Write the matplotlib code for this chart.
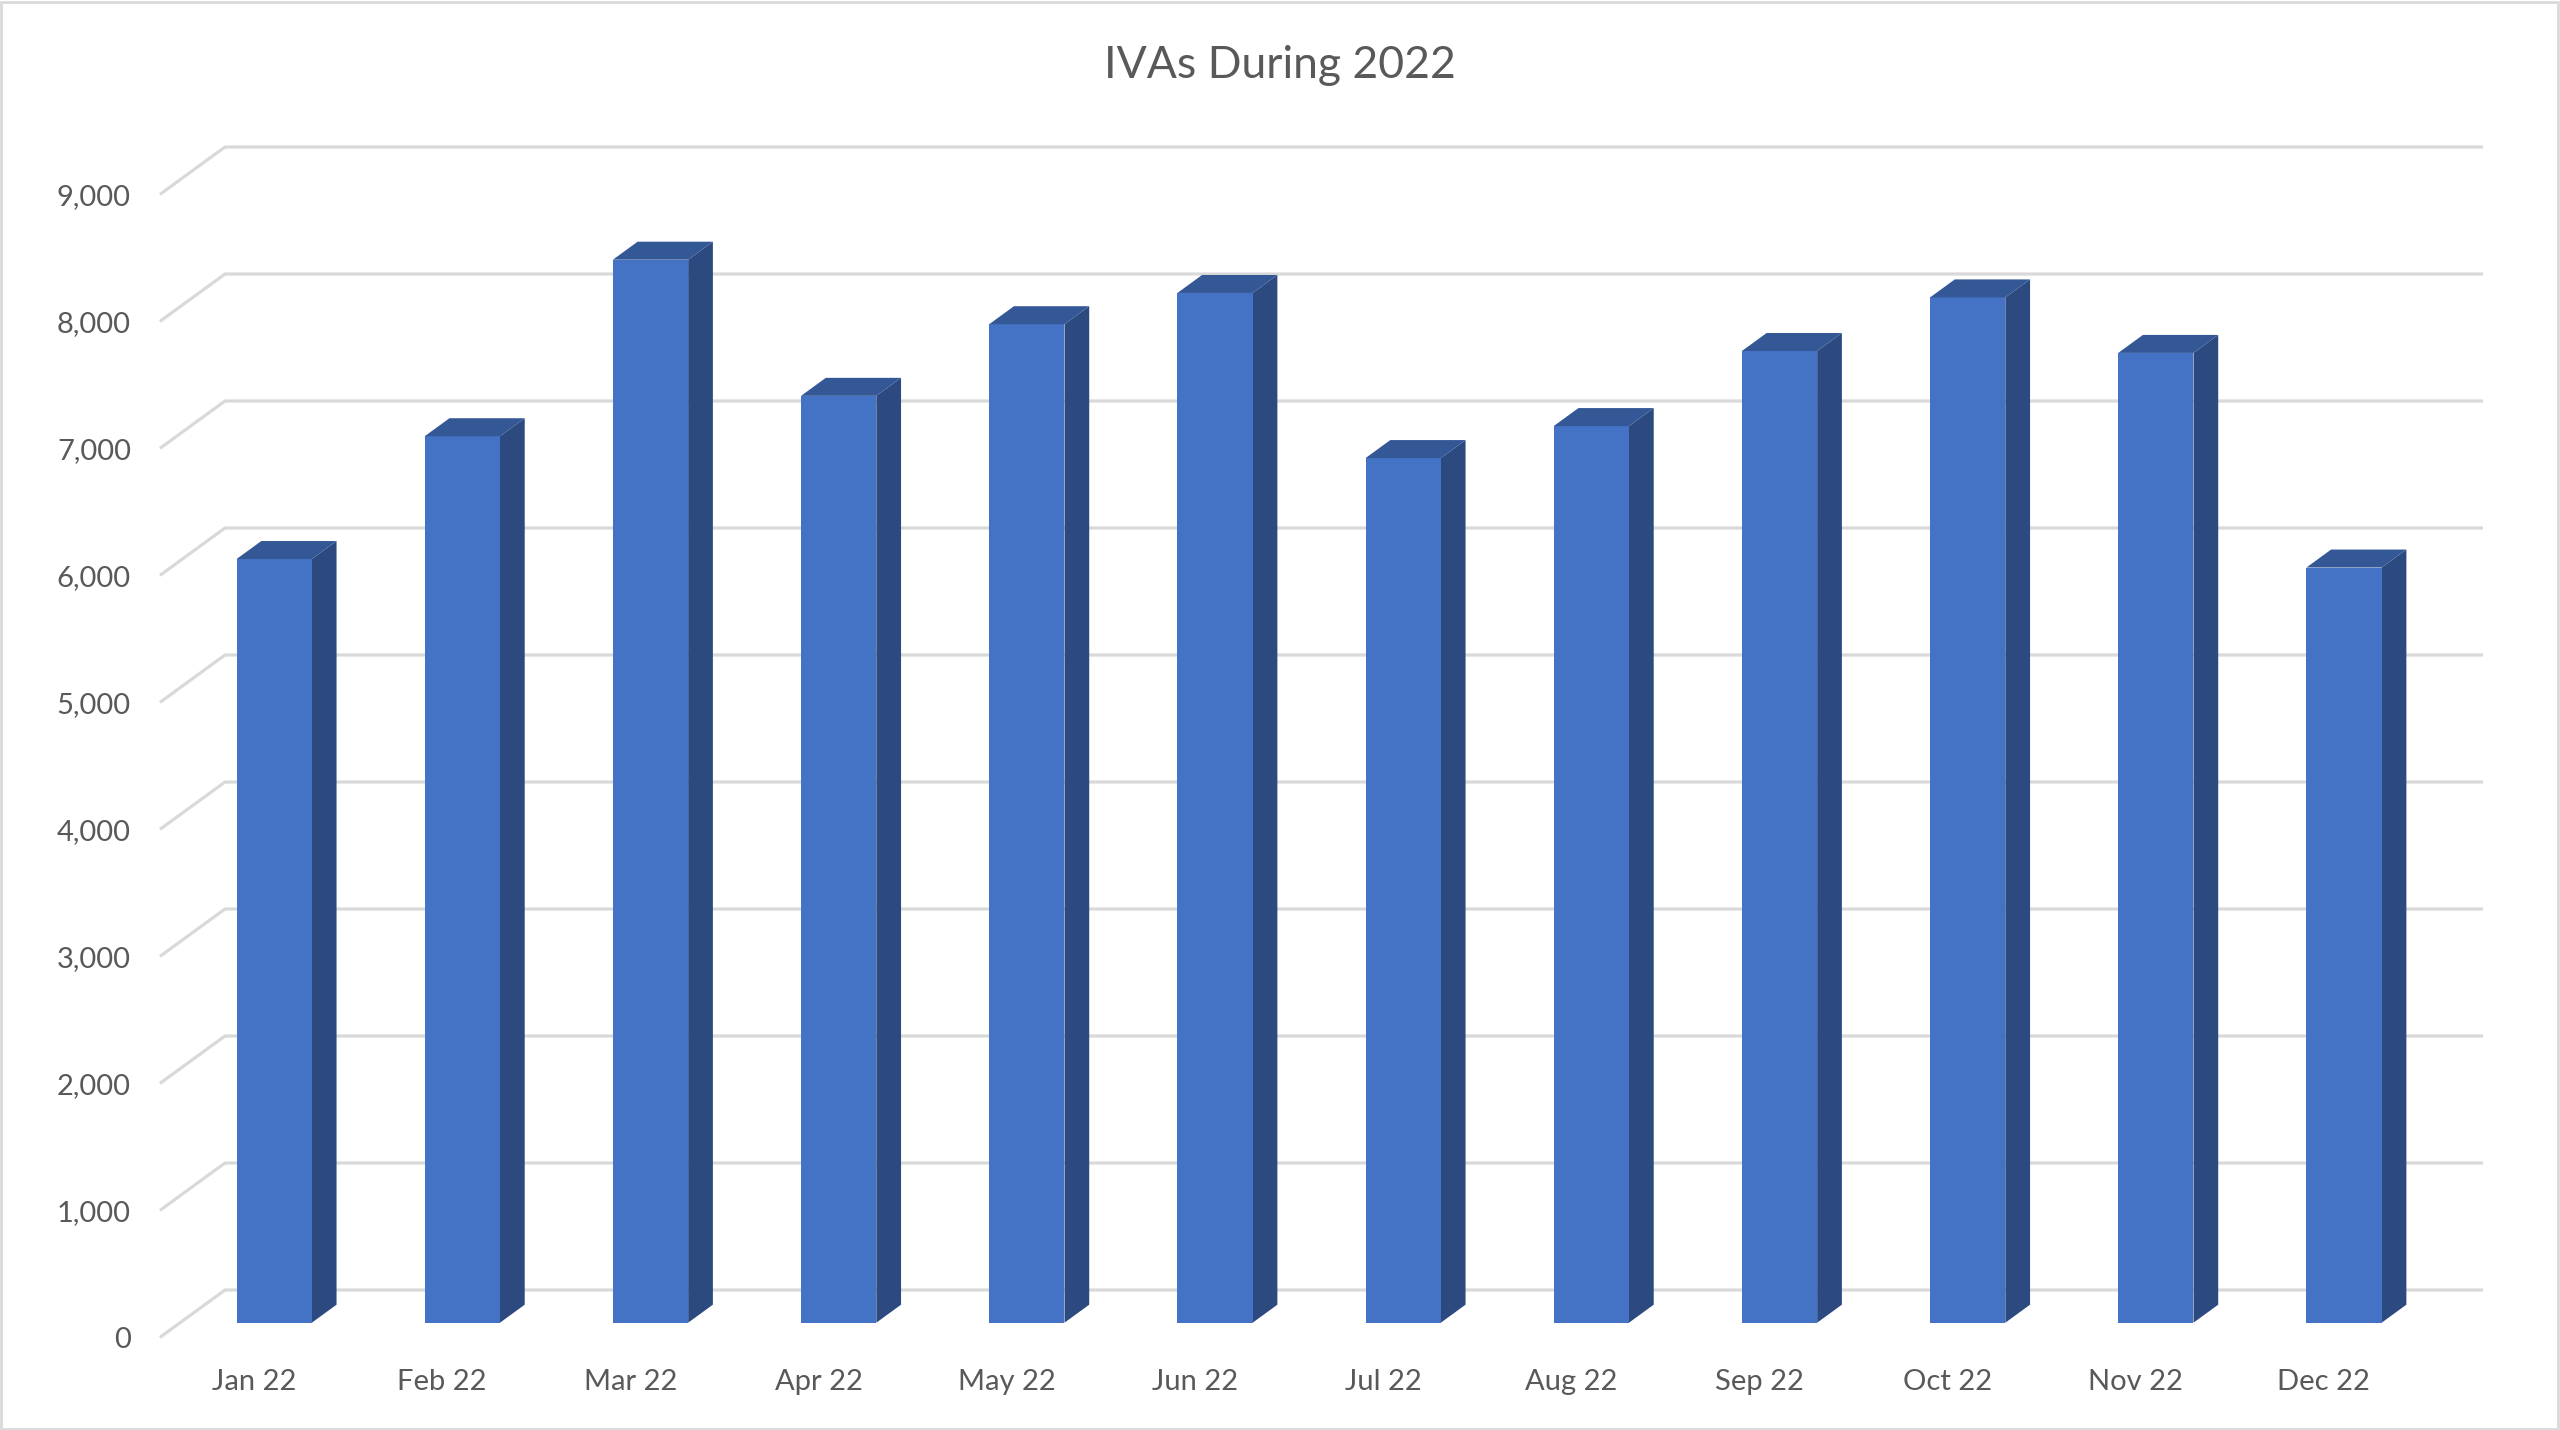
import numpy as np
import matplotlib.pyplot as plt
from matplotlib.patches import Polygon, Rectangle

# data
months = ['Jan 22', 'Feb 22', 'Mar 22', 'Apr 22', 'May 22', 'Jun 22',
          'Jul 22', 'Aug 22', 'Sep 22', 'Oct 22', 'Nov 22', 'Dec 22']
ivas = [6013, 6980, 8370, 7298, 7862, 8108, 6808, 7060, 7651, 8073, 7636, 5946]
yticks = [0, 1000, 2000, 3000, 4000, 5000, 6000, 7000, 8000, 9000]

front_col = '#4472C4'
side_col = '#2C4A80'
top_col = '#345796'
grid_col = '#D9D9D9'
text_col = '#595959'

plt.rcParams['font.family'] = ['Lato', 'DejaVu Sans']

W, H = 2560, 1430
fig = plt.figure(figsize=(W / 100, H / 100), dpi=100)
fig.patch.set_facecolor('white')

# the axes covers the back wall of the 3d box
ax = fig.add_axes([225 / W, 140 / H, 2258 / W, 1143 / H])
ax.set_xlim(0, 12)
ax.set_ylim(0, 9000)
ax.axis('off')

# oblique depth of the floor, in data units (x: slots, y: value)
DX = 0.3457
DY = 373.0
f_front, f_back = 0.69, 0.31   # bar depth, 0 = back wall, 1 = front edge
bw = 0.4                       # bar width as share of a slot

# gridlines: back wall + left side wall
for v in yticks:
    ax.plot([-DX, 0, 12], [v - DY, v, v], color=grid_col, lw=2.3,
            clip_on=False, zorder=1, solid_capstyle='butt')
    ax.annotate(f'{v:,}', xy=(-DX, v - DY), xytext=(-29, -3),
                textcoords='offset pixels', ha='right', va='center',
                fontsize=21, color=text_col, annotation_clip=False)

x = np.arange(len(months)) + 0.5
xf = x - f_front * DX
ax.bar(xf, ivas, width=bw, bottom=-f_front * DY, color=front_col,
       clip_on=False, zorder=3)

ddx = (f_front - f_back) * DX
ddy = (f_front - f_back) * DY
for xi, v in zip(xf, ivas):
    xl, xr = xi - bw / 2, xi + bw / 2
    b = -f_front * DY
    t = v - f_front * DY
    side = Polygon([(xr, b), (xr, t), (xr + ddx, t + ddy), (xr + ddx, b + ddy)],
                   closed=True, facecolor=side_col, edgecolor='none',
                   clip_on=False, zorder=2)
    top = Polygon([(xl, t), (xr, t), (xr + ddx, t + ddy), (xl + ddx, t + ddy)],
                  closed=True, facecolor=top_col, edgecolor='none',
                  clip_on=False, zorder=3)
    ax.add_patch(side)
    ax.add_patch(top)

for xi, m in zip(x - DX, months):
    ax.annotate(m, xy=(xi, -DY), xytext=(0, -45), textcoords='offset pixels',
                ha='center', va='center', fontsize=21, color=text_col,
                annotation_clip=False)

fig.text(0.5, 1 - 65 / H, 'IVAs During 2022', ha='center', va='center',
         fontsize=32, color=text_col)

# chart area border
fig.patches.append(Rectangle((1 / W, 1 / H), 1 - 3 / W, 1 - 3 / H,
                             transform=fig.transFigure, fill=False,
                             edgecolor=grid_col, lw=2))

fig.savefig('out.png', dpi=100, facecolor='white')
